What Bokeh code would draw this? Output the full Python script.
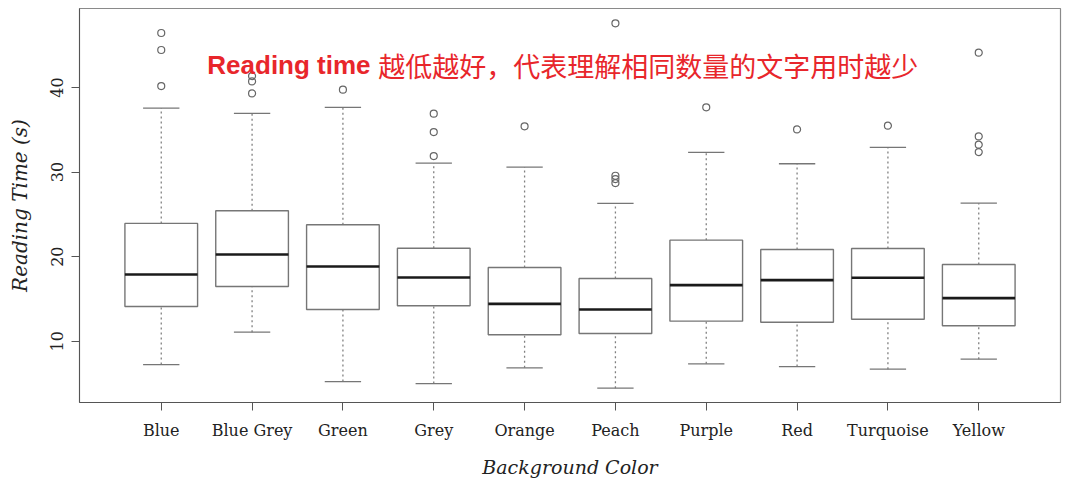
from bokeh.plotting import figure
from bokeh.models import Range1d, FixedTicker, ColumnDataSource
from bokeh.core.properties import value
from bokeh.embed import file_html
from bokeh.resources import INLINE

colors = ["Blue", "Blue Grey", "Green", "Grey", "Orange", "Peach", "Purple", "Red", "Turquoise", "Yellow"]
lower_whisker = [7.24, 11.07, 5.23, 4.99, 6.85, 4.44, 7.33, 7.00, 6.69, 7.87]
q1 = [14.10, 16.47, 13.75, 14.19, 10.76, 10.91, 12.37, 12.25, 12.60, 11.82]
median = [17.89, 20.26, 18.84, 17.54, 14.42, 13.75, 16.63, 17.22, 17.50, 15.09]
q3 = [23.93, 25.43, 23.77, 21.00, 18.72, 17.42, 21.95, 20.85, 20.97, 19.08]
upper_whisker = [37.57, 36.95, 37.66, 31.07, 30.59, 26.30, 32.33, 30.99, 32.92, 26.33]
outliers = {
    "Blue": [46.45, 44.44, 40.18],
    "Blue Grey": [41.36, 40.73, 39.31],
    "Green": [39.75],
    "Grey": [36.91, 34.73, 31.89],
    "Orange": [35.41],
    "Peach": [47.60, 29.57, 29.17, 28.70],
    "Purple": [37.66],
    "Red": [35.05],
    "Turquoise": [35.49],
    "Yellow": [44.13, 34.22, 33.24, 32.37],
}
y_ticks = [10, 20, 30, 40]

xs = list(range(len(colors)))
src = ColumnDataSource(dict(
    x=xs,
    left=[x - 0.4 for x in xs], right=[x + 0.4 for x in xs],
    cl=[x - 0.2 for x in xs], cr=[x + 0.2 for x in xs],
    lw=lower_whisker, q1=q1, med=median, q3=q3, uw=upper_whisker,
))
ox, oy = [], []
for i, c in enumerate(colors):
    for v in outliers[c]:
        ox.append(i)
        oy.append(v)

p = figure(frame_width=981, frame_height=394, output_backend="svg", toolbar_location=None,
           x_range=Range1d(-0.9, 9.9), y_range=Range1d(2.75, 49.35),
           min_border_left=79, min_border_right=6, min_border_top=8, min_border_bottom=84,
           background_fill_color="white", border_fill_color="white")
p.outline_line_color = "#8a8a8a"
p.outline_line_width = 1.2
p.xgrid.visible = False
p.ygrid.visible = False

box_col = "#767676"
p.segment(x0="x", y0="q3", x1="x", y1="uw", source=src, line_color="#808080", line_width=1.3, line_dash="2 3")
p.segment(x0="x", y0="lw", x1="x", y1="q1", source=src, line_color="#808080", line_width=1.3, line_dash="2 3")
p.segment(x0="cl", y0="uw", x1="cr", y1="uw", source=src, line_color=box_col, line_width=1.3)
p.segment(x0="cl", y0="lw", x1="cr", y1="lw", source=src, line_color=box_col, line_width=1.3)
p.quad(left="left", right="right", bottom="q1", top="q3", source=src,
       fill_color="white", line_color=box_col, line_width=1.4)
p.segment(x0="left", y0="med", x1="right", y1="med", source=src, line_color="#1a1a1a", line_width=2.6)
p.scatter(ox, oy, marker="circle", size=7, fill_color=None, line_color="#666666", line_width=1.2)

# annotation
p.text(x=[0.507], y=[42.63], text=["Reading time"], text_color="#E8262B",
       text_font=value("Liberation Sans"), text_font_style="bold", text_font_size="26px",
       text_baseline="alphabetic", text_align="left")
p.text(x=[2.39], y=[42.63], text=["越低越好，代表理解相同数量的文字用时越少"], text_color="#E8262B",
       text_font=value("Noto Sans CJK SC"), text_font_size="27px",
       text_baseline="alphabetic", text_align="left")

serif = "DejaVu Serif"
p.xaxis.ticker = FixedTicker(ticks=xs)
p.xaxis.major_label_overrides = {i: c for i, c in enumerate(colors)}
p.xaxis.minor_tick_line_color = None
p.xaxis.major_tick_out = 8
p.xaxis.major_tick_in = 0
p.xaxis.major_label_standoff = 10
p.xaxis.major_label_text_font = serif
p.xaxis.major_label_text_font_size = "16px"
p.xaxis.major_label_text_color = "#222222"
p.xaxis.axis_label = "Background Color"
p.xaxis.axis_label_text_font = serif
p.xaxis.axis_label_text_font_style = "italic"
p.xaxis.axis_label_text_font_size = "19px"
p.xaxis.axis_label_text_color = "#222222"
p.xaxis.axis_label_standoff = 13
p.xaxis.axis_line_color = "#555555"
p.xaxis.major_tick_line_color = "#555555"

p.yaxis.ticker = FixedTicker(ticks=y_ticks)
p.yaxis.minor_tick_line_color = None
p.yaxis.major_tick_out = 8
p.yaxis.major_tick_in = 0
p.yaxis.major_label_orientation = "vertical"
p.yaxis.major_label_standoff = 8
p.yaxis.major_label_text_font = serif
p.yaxis.major_label_text_font_size = "16px"
p.yaxis.major_label_text_color = "#222222"
p.yaxis.axis_label = "Reading Time (s)"
p.yaxis.axis_label_text_font = serif
p.yaxis.axis_label_text_font_style = "italic"
p.yaxis.axis_label_text_font_size = "20px"
p.yaxis.axis_label_text_color = "#222222"
p.yaxis.axis_label_standoff = 17
p.yaxis.axis_line_color = "#555555"
p.yaxis.major_tick_line_color = "#555555"

open("out.html", "w").write(file_html(p, INLINE))
